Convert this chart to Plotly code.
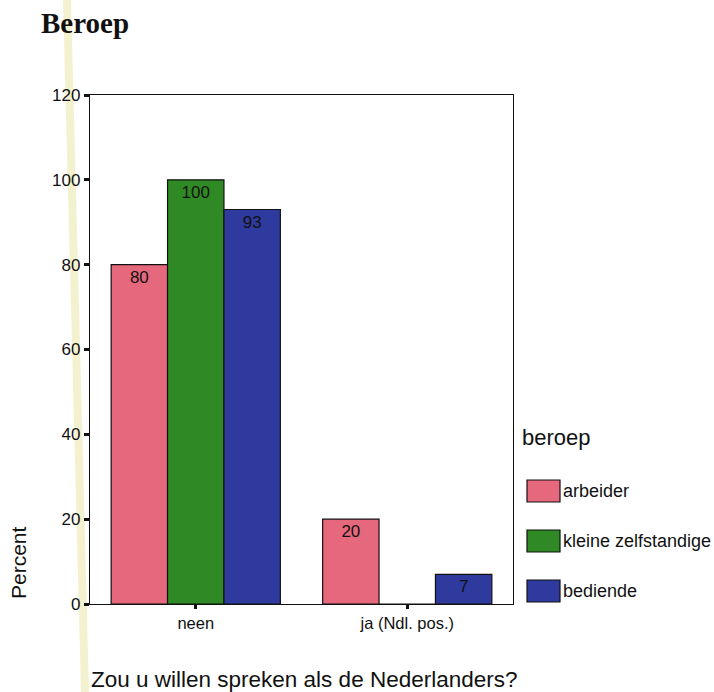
import plotly.graph_objects as go

# Data
categories = ["neen", "ja (Ndl. pos.)"]
series_names = ["arbeider", "kleine zelfstandige", "bediende"]
arbeider = [80, 20]
kleine_zelfstandige = [100, 0]
bediende = [93, 7]
y_ticks = [0, 20, 40, 60, 80, 100, 120]

colors = ["#E6687C", "#2F8A25", "#2F3A9E"]
values = [arbeider, kleine_zelfstandige, bediende]

fig = go.Figure()
for name, vals, col in zip(series_names, values, colors):
    fig.add_trace(go.Bar(
        x=categories, y=vals, name=name,
        marker=dict(color=col, line=dict(color="#111111", width=1.2)),
        text=[str(v) if v > 0 else "" for v in vals],
        textposition="inside", insidetextanchor="end",
        textfont=dict(family="Arial", size=17, color="#111111"),
        textangle=0,
        showlegend=False,
    ))

fig.update_layout(
    width=714, height=692,
    margin=dict(l=90, r=201, t=95, b=88),
    paper_bgcolor="white", plot_bgcolor="white",
    barmode="group", bargap=0.2, bargroupgap=0,
    uniformtext=dict(minsize=8, mode="show"),
    font=dict(family="Arial", color="#111111"),
    xaxis=dict(
        showgrid=False, showline=True, linecolor="#111111", linewidth=1.3,
        mirror=True, ticks="outside", ticklen=4, tickwidth=3, tickcolor="#111111",
        tickfont=dict(family="Arial", size=16.5, color="#111111"),
    ),
    yaxis=dict(
        range=[0, 120], tickvals=y_ticks, showgrid=False, zeroline=False,
        showline=True, linecolor="#111111", linewidth=1.3, mirror=True,
        ticks="outside", ticklen=5, tickwidth=3, tickcolor="#111111",
        tickfont=dict(family="Arial", size=17, color="#111111"),
    ),
)

# Pale highlighter stroke down the left side of the page
fig.add_shape(type="line", xref="paper", yref="paper",
              x0=(67 - 90) / 423, y0=1 + 95 / 509,
              x1=(85 - 90) / 423, y1=-88 / 509,
              line=dict(color="rgba(240,236,185,0.7)", width=8), layer="below")

# Title
fig.add_annotation(text="<b>Beroep</b>", xref="paper", yref="paper",
                   x=(39 - 90) / 423, y=1 + (95 - 23) / 509,
                   xanchor="left", yanchor="middle", showarrow=False,
                   font=dict(family="Liberation Serif", size=29, color="#111111"))

# Axis titles
fig.add_annotation(text="Percent", xref="paper", yref="paper",
                   x=(18 - 90) / 423, y=(604 - 563) / 509, textangle=-90,
                   xanchor="center", yanchor="middle", showarrow=False,
                   font=dict(family="Arial", size=21, color="#111111"))
fig.add_annotation(text="Zou u willen spreken als de Nederlanders?",
                   xref="paper", yref="paper",
                   x=(304 - 90) / 423, y=-(679 - 604) / 509,
                   xanchor="center", yanchor="middle", showarrow=False,
                   font=dict(family="Arial", size=22.5, color="#111111"))

# Legend built from shapes and text
fig.add_annotation(text="beroep", xref="paper", yref="paper",
                   x=(520 - 90) / 423, y=(604 - 437) / 509,
                   xanchor="left", yanchor="middle", showarrow=False,
                   font=dict(family="Arial", size=22, color="#111111"))
legend_rows = [491, 541, 591]
for name, col, yc in zip(series_names, colors, legend_rows):
    fig.add_shape(type="rect", xref="paper", yref="paper",
                  x0=(527 - 90) / 423, x1=(560 - 90) / 423,
                  y0=(604 - (yc - 11)) / 509, y1=(604 - (yc + 11)) / 509,
                  fillcolor=col, line=dict(color="#111111", width=1.2))
    fig.add_annotation(text=name, xref="paper", yref="paper",
                       x=(561 - 90) / 423, y=(604 - yc) / 509,
                       xanchor="left", yanchor="middle", showarrow=False,
                       font=dict(family="Arial", size=18, color="#111111"))

fig.write_html("out.html")
